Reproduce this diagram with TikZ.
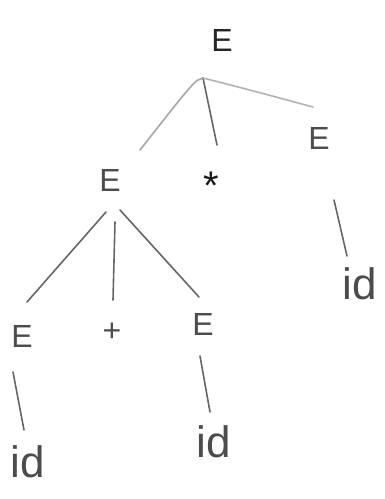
\documentclass[tikz,border=0pt]{standalone}
\usepackage{fontspec}
\setmainfont{Liberation Sans}
\begin{document}
\begin{tikzpicture}[x=1pt,y=-1pt,
  sym/.style={inner sep=1pt, text=black!70, font=\fontsize{32}{34}\selectfont},
  idsym/.style={inner sep=1pt, text=black!70, font=\fontsize{44}{46}\selectfont},
  edge/.style={draw=black!60, line width=1.6pt, line cap=round}]
\useasboundingbox (0,0) rectangle (385,499);
\node[sym, text=black!85] (root) at (222,40) {E};
\coordinate (j) at (203,78);
\node[sym] (e1) at (110,180) {E};
\node[sym, text=black!90, font=\fontsize{40}{42}\selectfont] (star) at (211,186) {*};
\node[sym] (e2) at (319,138) {E};
\node[sym] (e11) at (22,336) {E};
\node[sym] (plus) at (112,332) {+};
\node[sym] (e12) at (203,324) {E};
\node[idsym] (id1) at (28,462) {id};
\node[idsym] (id2) at (214,442) {id};
\node[idsym] (id3) at (360,284) {id};
\draw[edge, draw=black!35] (j) .. controls (195,80) .. (140,150);
\draw[edge] (j) -- (217,145);
\draw[edge, draw=black!30] (j) .. controls (250,90) .. (313,107);
\draw[edge] (106,212) -- (27,302);
\draw[edge] (115,222) -- (113,300);
\draw[edge] (120,210) -- (199,297);
\draw[edge] (13,372) -- (24,430);
\draw[edge] (200,356) -- (210,412);
\draw[edge] (334,200) -- (347,256);
\end{tikzpicture}
\end{document}
